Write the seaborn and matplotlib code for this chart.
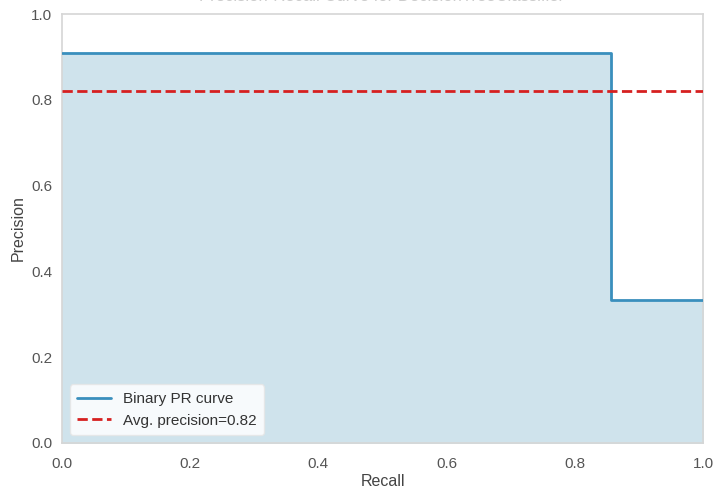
import numpy as np
import pandas as pd
import seaborn as sns
import matplotlib
matplotlib.use("Agg")
import matplotlib.pyplot as plt

# Precision-recall points (recall decreasing, as returned by sklearn)
recall = [1.0, 0.857, 0.857, 0.0]
precision = [0.333, 0.333, 0.909, 0.909]
avg_precision = 0.82
title = "Precision-Recall Curve for DecisionTreeClassifier"

sns.set_theme(style="white")
plt.rcParams["font.family"] = ["Liberation Sans", "DejaVu Sans"]

fig = plt.figure(figsize=(7.13, 4.90), dpi=100)
ax = fig.add_axes([62 / 713, 1 - 443 / 490, 641 / 713, 429 / 490])

df = pd.DataFrame({"recall": recall, "precision": precision})
line_color = "#3a8fbd"

ax.fill_between(df["recall"], df["precision"], step="post",
                color="#cfe3ec", alpha=1.0, zorder=1)
sns.lineplot(data=df, x="recall", y="precision", estimator=None,
             drawstyle="steps-post", color=line_color, linewidth=2,
             sort=False, ax=ax, label="Binary PR curve", zorder=3)
ax.axhline(avg_precision, color="#d62020", linestyle="--", linewidth=2,
           label=f"Avg. precision={avg_precision:.2f}", zorder=4)

ticks = np.arange(0, 1.01, 0.2)
ax.set_xlim(0, 1)
ax.set_ylim(0, 1)
ax.set_xticks(ticks)
ax.set_yticks(ticks)
ax.set_xticklabels([f"{v:.1f}" for v in ticks])
ax.set_yticklabels([f"{v:.1f}" for v in ticks])
ax.tick_params(colors="#555555", labelsize=11, length=0)
ax.tick_params(axis="y", pad=7)
ax.tick_params(axis="x", pad=10)
ax.set_xlabel("Recall", fontsize=11.5, color="#444444", labelpad=2)
ax.set_ylabel("Precision", fontsize=11.5, color="#444444", labelpad=4)
for s in ax.spines.values():
    s.set_color("#d6d6d6")
    s.set_linewidth(1.2)

leg = ax.legend(loc="lower left", fontsize=11, frameon=True,
                facecolor="white", edgecolor="#e6e6e6", framealpha=0.85,
                borderpad=0.5, handlelength=2.2)
for t in leg.get_texts():
    t.set_color("#333333")

fig.text(0.535, 1 - 4 / 490, title, ha="center", va="bottom",
         fontsize=12, color="#cccccc")

fig.savefig("out.png", dpi=100)
